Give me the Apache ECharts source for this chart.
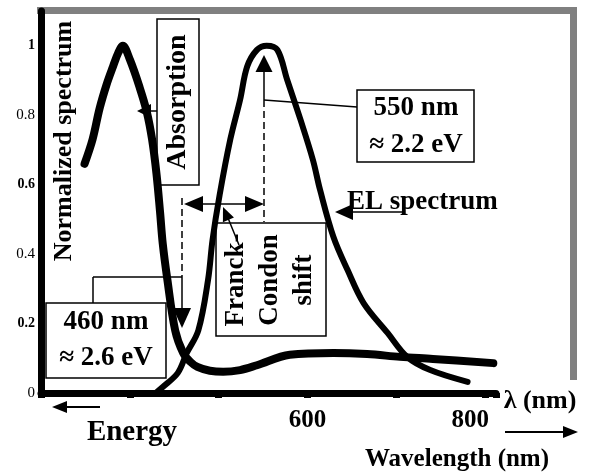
<!DOCTYPE html>
<html>
<head>
<meta charset="utf-8">
<script src="https://cdn.jsdelivr.net/npm/echarts@6/dist/echarts.min.js"></script>
<style>
  html, body { margin: 0; background: #fff; }
  #chart { width: 590px; height: 476px; }
</style>
</head>
<body>
<div id="chart"></div>
<script>
// absorption spectrum (nm, normalized)
const absorptionWavelength = [349, 358, 366, 374, 381, 387, 392, 400, 411, 419, 425, 430, 434, 437, 442, 451, 460, 468, 476, 490, 505, 524, 543, 580, 629, 667, 704, 741, 809];
const absorptionValue = [0.66, 0.73, 0.82, 0.89, 0.94, 0.98, 1.0, 0.96, 0.88, 0.81, 0.73, 0.63, 0.52, 0.43, 0.33, 0.18, 0.115, 0.09, 0.075, 0.064, 0.061, 0.066, 0.08, 0.11, 0.115, 0.112, 0.104, 0.098, 0.086];

// EL spectrum
const elWavelength = [429, 437, 454, 464, 477, 488, 493, 501, 513, 524, 532, 543, 554, 566, 577, 592, 606, 614, 629, 645, 663, 690, 712, 738, 780];
const elValue = [0, 0.017, 0.058, 0.115, 0.18, 0.326, 0.44, 0.57, 0.73, 0.844, 0.94, 0.988, 1.0, 0.988, 0.902, 0.787, 0.671, 0.585, 0.45, 0.354, 0.259, 0.173, 0.104, 0.066, 0.032];

const xTickLabels = [600, 800];
const boldYTicks = [0.2, 0.6, 1];
const absorptionEdge = 459;   // 460 nm marker
const emissionPeak = 551;     // 550 nm marker

const serif = "Liberation Serif";
const bold = (size) => ({ fontFamily: serif, fontWeight: "bold", fontSize: size });

const chart = echarts.init(document.getElementById("chart"), null, { renderer: "canvas" });

chart.setOption({
  animation: false,
  grid: { left: 41, right: 94, top: 11, bottom: 83 },
  xAxis: {
    type: "value",
    min: 300,
    max: 812,
    interval: 100,
    axisLine: { lineStyle: { color: "#000", width: 7 } },
    axisTick: { show: true, length: 5, lineStyle: { color: "#000", width: 7 } },
    splitLine: { show: false },
    axisLabel: {
      margin: 15,
      color: "#000",
      formatter: (v) => {
        if (!xTickLabels.includes(v)) return "";
        return v === 800 ? `{shift|${v}}` : `{n|${v}}`;
      },
      rich: {
        n: Object.assign({ color: "#000" }, bold(25)),
        shift: Object.assign({ color: "#000", padding: [0, 30, 0, 0] }, bold(25))
      }
    }
  },
  yAxis: {
    type: "value",
    min: 0,
    max: 1.1,
    interval: 0.2,
    axisLine: { show: true, lineStyle: { color: "#000", width: 7 } },
    axisTick: { show: false },
    splitLine: { show: false },
    axisLabel: {
      margin: 6,
      formatter: (v) => {
        if (v > 1.05) return "";
        const label = String(Math.round(v * 10) / 10);
        const isBold = boldYTicks.some((b) => Math.abs(b - v) < 1e-6);
        return isBold ? `{b|${label}}` : `{n|${label}}`;
      },
      rich: {
        b: Object.assign({ color: "#000" }, bold(14)),
        n: { color: "#000", fontFamily: serif, fontSize: 15 }
      }
    }
  },
  series: [
    {
      type: "line",
      name: "Absorption",
      data: absorptionWavelength.map((w, i) => [w, absorptionValue[i]]),
      showSymbol: false,
      smooth: 0.35,
      clip: false,
      lineStyle: { color: "#000", width: 8, cap: "round", join: "round" }
    },
    {
      type: "line",
      name: "EL spectrum",
      data: elWavelength.map((w, i) => [w, elValue[i]]),
      showSymbol: false,
      smooth: 0.35,
      clip: false,
      lineStyle: { color: "#000", width: 6, cap: "round", join: "round" }
    }
  ]
});

// annotation helpers
function line(x1, y1, x2, y2, dashed, width) {
  return {
    type: "line",
    shape: { x1, y1, x2, y2 },
    style: { stroke: "#000", lineWidth: width || 1.5, lineDash: dashed ? [7, 4] : null },
    z: 10
  };
}
function head(tipX, tipY, fromX, fromY, len, half) {
  const dx = tipX - fromX, dy = tipY - fromY;
  const d = Math.hypot(dx, dy);
  const ux = dx / d, uy = dy / d;
  const bx = tipX - ux * len, by = tipY - uy * len;
  return {
    type: "polygon",
    shape: { points: [[tipX, tipY], [bx - uy * half, by + ux * half], [bx + uy * half, by - ux * half]] },
    style: { fill: "#000" },
    z: 10
  };
}
function box(x, y, width, height) {
  return {
    type: "rect",
    shape: { x, y, width, height },
    style: { fill: null, stroke: "#000", lineWidth: 1.5 },
    z: 9
  };
}
function text(str, x, y, size, rotate, extra) {
  return {
    type: "text",
    x, y,
    rotation: rotate ? Math.PI / 2 : 0,
    style: Object.assign({ text: str, fill: "#000", align: "center", verticalAlign: "middle" }, bold(size), extra || {}),
    z: 11
  };
}

const xEdge = Math.round(chart.convertToPixel({ gridIndex: 0 }, [absorptionEdge, 0])[0]);
const xPeak = Math.round(chart.convertToPixel({ gridIndex: 0 }, [emissionPeak, 0])[0]);

const graphics = [
  // grey frame
  { type: "line", shape: { x1: 37, y1: 10.5, x2: 577, y2: 10.5 }, style: { stroke: "#808080", lineWidth: 7 }, z: -1 },
  { type: "line", shape: { x1: 573.5, y1: 7, x2: 573.5, y2: 380 }, style: { stroke: "#808080", lineWidth: 7 }, z: -1 },

  // axis texts
  text("Normalized spectrum", 64, 141, 26, true),
  text("λ (nm)", 540, 401, 26),
  line(505, 432, 566, 432, false, 2),
  head(578, 432, 505, 432, 15, 6),
  text("Energy", 132, 433, 29),
  line(64, 407, 100, 407, false, 2),
  head(52, 407, 100, 407, 15, 6),
  text("Wavelength (nm)", 457, 460, 25),

  // Absorption label
  box(157, 19, 42, 166),
  text("Absorption", 178, 102, 28, true),
  line(157, 111, 149, 111),
  head(137, 111, 157, 111, 14, 7),

  // 550 nm label
  box(357, 90, 117, 72),
  text("550 nm", 416, 108, 27),
  text("≈ 2.2 eV", 416, 145, 27),
  line(357, 107, xPeak, 100),
  line(xPeak, 100, xPeak, 70),
  head(xPeak, 55, xPeak, 100, 17, 8.5),
  line(xPeak, 100, xPeak, 222, true),

  // 460 nm label
  box(46, 303, 120, 75),
  text("460 nm", 106, 322, 27),
  text("≈ 2.6 eV", 106, 358, 27),
  line(93, 303, 93, 277),
  line(93, 277, xEdge, 277),
  line(xEdge, 198, xEdge, 277, true),
  line(xEdge, 277, xEdge, 310),
  head(xEdge, 328, xEdge, 277, 20, 9),

  // Franck-Condon shift
  line(xEdge + 10, 204, xPeak - 10, 204),
  head(xEdge + 2, 204, xPeak, 204, 19, 8),
  head(xPeak, 204, xEdge, 204, 19, 8),
  box(216, 223, 110, 113),
  text("Franck-\nCondon\nshift", 270, 280, 27, true, { lineHeight: 34 }),
  line(239, 245, 228, 218),
  head(223, 207, 239, 245, 14, 6),

  // EL spectrum label
  text("EL spectrum", 347, 202, 27, false, { align: "left" }),
  line(403, 212, 350, 212),
  head(335, 212, 403, 212, 18, 8)
];

chart.setOption({ graphic: graphics });
</script>
</body>
</html>
